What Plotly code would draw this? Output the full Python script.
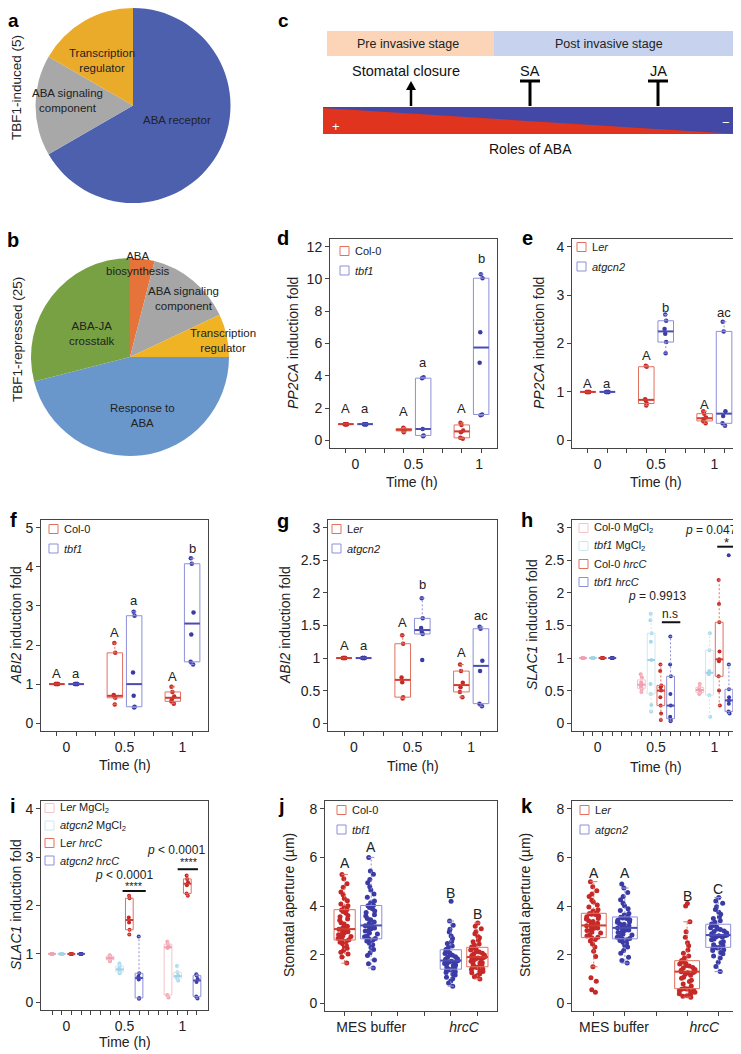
import plotly.graph_objects as go

# the page body adds an 8 px margin, so the figure covers page pixels 8..741
OFF = 8
W, H = 741 - OFF, 1054 - OFF
FONT = "Liberation Sans, Arial, sans-serif"

# ---------------- data ----------------
# a / b: gene categories (pie shares)
a_labels = ["ABA receptor", "ABA signaling component", "Transcription regulator"]
a_values = [4, 1, 1]
b_labels = ["ABA biosynthesis", "ABA signaling component", "Transcription regulator",
            "Response to ABA", "ABA-JA crosstalk"]
b_values = [4, 14, 7, 46, 29]

time_labels = ["0", "0.5", "1"]

# d: PP2CA, Col-0 / tbf1 (values per time point)
d_col0 = [[1, 1, 1, 1, 1, 1], [0.5, 0.58, 0.62, 0.68, 0.72, 0.78], [0.1, 0.15, 0.5, 0.6, 0.95, 1.08]]
d_tbf1 = [[1, 1, 1, 1, 1, 1], [0.25, 0.3, 0.7, 3.85, 3.9], [1.55, 1.6, 4.8, 6.7, 10.05, 10.3]]
# e: PP2CA, Ler / atgcn2
e_ler = [[1, 1, 1, 1, 1, 1], [0.72, 0.76, 0.82, 0.85, 1.52, 1.54], [0.35, 0.4, 0.44, 0.47, 0.55, 0.6]]
e_gcn2 = [[1, 1, 1, 1, 1, 1], [1.8, 2.03, 2.2, 2.3, 2.47, 2.6], [0.3, 0.35, 0.5, 0.6, 2.25, 2.45]]
# f: ABI2, Col-0 / tbf1
f_col0 = [[1, 1, 1, 1, 1, 1], [0.48, 0.65, 0.68, 0.72, 1.8, 2.05], [0.5, 0.56, 0.62, 0.68, 0.8, 0.93]]
f_tbf1 = [[1, 1, 1, 1, 1, 1], [0.4, 0.42, 0.7, 1.3, 2.75, 2.85], [1.5, 1.57, 2.27, 2.83, 4.08, 4.22]]
# g: ABI2, Ler / atgcn2
g_ler = [[1, 1, 1, 1, 1, 1], [0.38, 0.4, 0.63, 0.7, 1.22, 1.35], [0.4, 0.48, 0.55, 0.62, 0.8, 0.9]]
g_gcn2 = [[1, 1, 1, 1, 1, 1], [0.97, 1.37, 1.4, 1.46, 1.61, 1.92], [0.26, 0.3, 0.8, 0.96, 1.45, 1.48]]
# h: SLAC1, Col-0 / tbf1, MgCl2 / hrcC
h_col0_mg = [[1, 1, 1, 1, 1, 1], [0.48, 0.52, 0.55, 0.58, 0.6, 0.63, 0.7, 0.75], [0.45, 0.47, 0.5, 0.52, 0.55, 0.6]]
h_tbf1_mg = [[1, 1, 1, 1, 1, 1], [0.18, 0.28, 0.45, 0.6, 0.97, 1.25, 1.38, 1.58, 1.68], [0.1, 0.43, 0.75, 0.8, 1.12, 1.38]]
h_col0_hr = [[1, 1, 1, 1, 1, 1], [0.05, 0.15, 0.27, 0.4, 0.5, 0.55, 0.58, 0.8, 0.9],
             [0.27, 0.5, 0.72, 0.95, 0.98, 1.1, 1.55, 1.83, 2.2]]
h_tbf1_hr = [[1, 1, 1, 1, 1, 1], [0.03, 0.05, 0.07, 0.1, 0.27, 0.45, 0.72, 0.9, 1.33],
             [0.15, 0.17, 0.18, 0.3, 0.35, 0.4, 0.52, 0.9, 2.58]]
# i: SLAC1, Ler / atgcn2, MgCl2 / hrcC
i_ler_mg = [[1, 1, 1, 1, 1, 1], [0.85, 0.88, 0.9, 0.92, 0.95, 0.97], [0.1, 0.15, 1.12, 1.15, 1.2, 1.25]]
i_gcn2_mg = [[1, 1, 1, 1, 1, 1], [0.6, 0.63, 0.66, 0.7, 0.75, 0.8], [0.45, 0.5, 0.53, 0.55, 0.62, 0.75]]
i_ler_hr = [[1, 1, 1, 1, 1, 1], [1.4, 1.5, 1.65, 1.75, 2.15, 2.2], [2.2, 2.25, 2.42, 2.48, 2.55, 2.62]]
i_gcn2_hr = [[1, 1, 1, 1, 1, 1], [0.07, 0.09, 0.47, 0.53, 0.6, 1.36], [0.08, 0.12, 0.42, 0.48, 0.55, 0.58]]

treat_labels = ["MES buffer", "<i>hrcC</i>"]
# j: stomatal aperture (um), Col-0 / tbf1
j_col0_mes = [1.65, 1.9, 2.02, 2.1, 2.17, 2.26, 2.31, 2.38, 2.44, 2.51, 2.55, 2.59,
              2.61, 2.66, 2.69, 2.75, 2.78, 2.82, 2.88, 2.9, 2.94, 2.99, 3.01, 3.04,
              3.06, 3.11, 3.17, 3.26, 3.31, 3.41, 3.47, 3.56, 3.61, 3.71, 3.77, 3.84,
              3.86, 3.93, 4.01, 4.08, 4.22, 4.31, 4.46, 4.58, 4.77, 4.92, 5.12, 5.3]
j_tbf1_mes = [1.45, 1.62, 1.78, 1.96, 2.08, 2.21, 2.29, 2.41, 2.47, 2.56, 2.6, 2.64,
              2.66, 2.73, 2.77, 2.85, 2.89, 2.97, 3.0, 3.06, 3.09, 3.15, 3.17, 3.19,
              3.21, 3.29, 3.34, 3.43, 3.49, 3.59, 3.64, 3.73, 3.79, 3.89, 3.94, 4.01,
              4.03, 4.13, 4.21, 4.36, 4.49, 4.66, 4.79, 4.96, 5.09, 5.31, 5.44, 6.0]
j_tbf1_hrc = [0.7, 0.83, 0.91, 1.01, 1.07, 1.16, 1.19, 1.26, 1.29, 1.35, 1.37, 1.39,
              1.41, 1.46, 1.49, 1.55, 1.57, 1.63, 1.64, 1.69, 1.7, 1.73, 1.74, 1.75,
              1.76, 1.81, 1.83, 1.89, 1.91, 1.97, 1.99, 2.05, 2.07, 2.13, 2.15, 2.19,
              2.21, 2.29, 2.35, 2.46, 2.54, 2.66, 2.77, 2.93, 3.04, 3.21, 3.38, 4.2]
j_col0_hrc = [1.0, 1.09, 1.14, 1.21, 1.25, 1.31, 1.33, 1.39, 1.41, 1.45, 1.47, 1.49,
              1.51, 1.56, 1.59, 1.65, 1.67, 1.73, 1.75, 1.81, 1.82, 1.86, 1.88, 1.89,
              1.91, 1.96, 1.98, 2.04, 2.06, 2.11, 2.13, 2.19, 2.21, 2.26, 2.27, 2.29,
              2.31, 2.39, 2.44, 2.53, 2.59, 2.69, 2.75, 2.86, 2.94, 3.06, 3.17, 3.3]
# k: stomatal aperture (um), Ler / atgcn2
k_ler_mes = [0.45, 0.55, 0.9, 1.05, 1.5, 1.92, 2.14, 2.31, 2.44, 2.56, 2.62, 2.69,
             2.71, 2.77, 2.81, 2.89, 2.92, 2.99, 3.01, 3.07, 3.09, 3.15, 3.16, 3.19,
             3.21, 3.26, 3.29, 3.36, 3.39, 3.46, 3.49, 3.56, 3.59, 3.65, 3.66, 3.69,
             3.71, 3.79, 3.85, 3.96, 4.04, 4.16, 4.24, 4.39, 4.49, 4.63, 4.79, 5.0]
k_gcn2_mes = [1.65, 1.76, 1.89, 2.06, 2.17, 2.31, 2.37, 2.46, 2.51, 2.58, 2.61, 2.64,
              2.66, 2.71, 2.74, 2.81, 2.84, 2.91, 2.93, 2.99, 3.01, 3.06, 3.07, 3.09,
              3.11, 3.16, 3.19, 3.25, 3.27, 3.33, 3.35, 3.41, 3.43, 3.49, 3.51, 3.54,
              3.56, 3.63, 3.69, 3.81, 3.89, 4.01, 4.11, 4.26, 4.39, 4.56, 4.74, 4.9]
k_ler_hrc = [0.25, 0.29, 0.31, 0.37, 0.39, 0.45, 0.47, 0.52, 0.53, 0.57, 0.58, 0.59,
             0.61, 0.71, 0.79, 0.89, 0.94, 1.03, 1.07, 1.15, 1.19, 1.25, 1.26, 1.29,
             1.31, 1.36, 1.39, 1.45, 1.47, 1.53, 1.55, 1.61, 1.63, 1.69, 1.71, 1.74,
             1.76, 1.86, 1.94, 2.06, 2.19, 2.36, 2.49, 2.71, 2.94, 3.35, 4.0, 4.1]
k_gcn2_hrc = [1.3, 1.51, 1.69, 1.86, 1.94, 2.04, 2.09, 2.17, 2.2, 2.26, 2.27, 2.29,
              2.31, 2.37, 2.41, 2.49, 2.53, 2.61, 2.64, 2.71, 2.73, 2.78, 2.79, 2.8,
              2.81, 2.86, 2.89, 2.95, 2.97, 3.03, 3.05, 3.11, 3.13, 3.19, 3.21, 3.24,
              3.26, 3.33, 3.39, 3.49, 3.55, 3.66, 3.74, 3.86, 3.97, 4.11, 4.21, 4.35]

# ---------------- styles ----------------
RED = ("#e2705f", "#c62828", "#cf3b2e")     # box line, points, median
BLUE = ("#8d8fd8", "#3b3ba6", "#4a4cb4")
PINK = ("#f6c3cb", "#f1a5b3", "#ef9fae")
CYAN = ("#cde9f2", "#a9d8ea", "#9fd2e6")
AXC = "#444444"


def X(px):
    return (px - OFF) / W


def Y(py):
    return 1 - (py - OFF) / H


fig = go.Figure()
ann = []
shapes = []


def txt(px, py, s, size=11.5, color="#222", **kw):
    d = dict(x=X(px), y=Y(py), xref="paper", yref="paper", text=s, showarrow=False,
             xanchor="center", yanchor="middle",
             font=dict(family=FONT, size=size, color=color))
    d.update(kw)
    ann.append(d)


# ---------------- pies ----------------
fig.add_trace(go.Pie(labels=a_labels, values=a_values, sort=False, direction="clockwise",
                     rotation=0, textposition="none", hoverinfo="skip", showlegend=False,
                     marker=dict(colors=["#4c60ae", "#a8a8a8", "#eaab2b"], line=dict(width=0)),
                     domain=dict(x=[X(35.5), X(230.5)], y=[Y(203), Y(8)])))
fig.add_trace(go.Pie(labels=b_labels, values=b_values, sort=False, direction="clockwise",
                     rotation=0, textposition="none", hoverinfo="skip", showlegend=False,
                     marker=dict(colors=["#e5733a", "#a6a6a6", "#f0b324", "#6a97cb", "#78a143"],
                                 line=dict(width=0)),
                     domain=dict(x=[X(31), X(229)], y=[Y(456), Y(258)])))

txt(177, 120, "ABA receptor")
txt(102, 60, "Transcription<br>regulator")
txt(67, 100, "ABA signaling<br>component")
txt(138, 263, "ABA<br>biosynthesis")
txt(183, 298, "ABA signaling<br>component")
txt(223, 340, "Transcription<br>regulator")
txt(92, 333, "ABA-JA<br>crosstalk")
txt(142, 415, "Response to<br>ABA")
txt(17, 88, "TBF1-induced (5)", size=13.5, textangle=-90)
txt(17, 340, "TBF1-repressed (25)", size=13.5, textangle=-90)

# ---------------- panel c (schematic) ----------------
def rect(x0, y0, x1, y1, color):
    shapes.append(dict(type="rect", xref="paper", yref="paper", x0=X(x0), x1=X(x1),
                       y0=Y(y1), y1=Y(y0), fillcolor=color, line=dict(width=0), layer="above"))


def seg(x0, y0, x1, y1, width=3, color="#000"):
    shapes.append(dict(type="line", xref="paper", yref="paper", x0=X(x0), x1=X(x1),
                       y0=Y(y0), y1=Y(y1), line=dict(color=color, width=width), layer="above"))


rect(327, 31, 494, 56, "#fcd5b8")
rect(494, 31, 735, 56, "#c7d2ee")
txt(408, 44, "Pre invasive stage", size=12.5)
txt(609, 44, "Post invasive stage", size=12.5)
txt(406, 71, "Stomatal closure", size=14.5, color="#111")
txt(530, 71, "SA", size=14.5, color="#111")
txt(658, 71, "JA", size=14.5, color="#111")
seg(411, 106, 411, 89, width=2.5)
shapes.append(dict(type="path", xref="paper", yref="paper", layer="above",
                   path=f"M {X(406)},{Y(90)} L {X(416)},{Y(90)} L {X(411)},{Y(81)} Z",
                   fillcolor="#000", line=dict(width=0)))
for tx in (530, 658):
    seg(tx, 106, tx, 81)
    seg(tx - 10, 81, tx + 10, 81)
rect(323, 107, 735, 134, "#4347a6")
shapes.append(dict(type="path", xref="paper", yref="paper", layer="above",
                   path=f"M {X(323)},{Y(108)} L {X(735)},{Y(134)} L {X(323)},{Y(134)} Z",
                   fillcolor="#e0341f", line=dict(width=0)))
txt(336, 126, "+", size=13, color="#fff")
txt(726, 122, "\u2212", size=13, color="#fff")
txt(530, 149, "Roles of ABA", size=14, color="#111")

# ---------------- panel letters ----------------
txt(13, 8, "<b>a</b>", size=19, color="#000", yanchor="top")
txt(283, 8, "<b>c</b>", size=19, color="#000", yanchor="top")
letters = [("b", 13, 240), ("d", 283, 238), ("e", 527, 238),
           ("f", 13, 520), ("g", 283, 521), ("h", 527, 520), ("i", 13, 806), ("j", 281, 806),
           ("k", 527, 806)]
for s, px, py in letters:
    txt(px, py, f"<b>{s}</b>", size=20, color="#000")

axes = {}


def panel(n, frame, xr, yr, yticks, xt_vals, xt_text, minor_vals):
    L, T, R, B = frame
    axes[f"xaxis{n}"] = dict(domain=[X(L), X(R)], range=xr, anchor=f"y{n}", showline=True,
                             mirror=True, linecolor=AXC, linewidth=1, showgrid=False, zeroline=False,
                             tickvals=xt_vals, ticktext=xt_text, ticks="outside", ticklen=3,
                             tickcolor="rgba(0,0,0,0)", tickfont=dict(family=FONT, size=14, color="#222"),
                             minor=dict(tickvals=minor_vals, ticks="outside", ticklen=4,
                                        tickcolor=AXC, tickwidth=1, showgrid=False))
    axes[f"yaxis{n}"] = dict(domain=[Y(B), Y(T)], range=yr, anchor=f"x{n}", showline=True,
                             mirror=True, linecolor=AXC, linewidth=1, showgrid=False, zeroline=False,
                             tickvals=yticks, ticks="outside", ticklen=4, tickcolor=AXC,
                             tickfont=dict(family=FONT, size=14, color="#222"))


def tukey(vals):
    # Tukey hinges and 1.5*IQR whisker ends, as R's boxplot draws them
    v = sorted(vals)
    n = len(v)

    def med(a):
        m = len(a)
        return a[m // 2] if m % 2 else (a[m // 2 - 1] + a[m // 2]) / 2

    half = (n + 1) // 2
    q1, q3 = med(v[:half]), med(v[n - half:])
    iqr = q3 - q1
    lo = min(x for x in v if x >= q1 - 1.5 * iqr)
    hi = max(x for x in v if x <= q3 + 1.5 * iqr)
    return q1, med(v), q3, lo, hi


def boxes(n, groups, slots, style, jitter=0.2, width=0.8, size=4.5):
    lc, pc, mc = style
    xs, ys = [], []
    for vals, s in zip(groups, slots):
        xs += [s] * len(vals)
        ys += vals
    # points (jittered by plotly), box itself drawn below as lines
    fig.add_trace(go.Box(x=xs, y=ys, xaxis=f"x{n}", yaxis=f"y{n}", width=width,
                         boxpoints="all", jitter=jitter, pointpos=0,
                         line=dict(color="rgba(0,0,0,0)", width=0), fillcolor="rgba(0,0,0,0)",
                         marker=dict(color=pc, size=size), showlegend=False, hoverinfo="skip"))
    bx, by, mx, my, wx, wy = [], [], [], [], [], []
    hw, cw = width / 2, width * 0.15
    for vals, s in zip(groups, slots):
        q1, md, q3, lo, hi = tukey(vals)
        bx += [s - hw, s + hw, s + hw, s - hw, s - hw, None, s - cw, s + cw, None, s - cw, s + cw, None]
        by += [q1, q1, q3, q3, q1, None, lo, lo, None, hi, hi, None]
        mx += [s - hw, s + hw, None]
        my += [md, md, None]
        wx += [s, s, None, s, s, None]
        wy += [q1, lo, None, q3, hi, None]
    common = dict(xaxis=f"x{n}", yaxis=f"y{n}", mode="lines", showlegend=False, hoverinfo="skip")
    fig.add_trace(go.Scatter(x=wx, y=wy, line=dict(color=lc, width=1, dash="2px,2px"), **common))
    fig.add_trace(go.Scatter(x=bx, y=by, line=dict(color=lc, width=1), **common))
    fig.add_trace(go.Scatter(x=mx, y=my, line=dict(color=mc, width=2), **common))


def legend(px, py, items, dy=19.5):
    for k, (name, col) in enumerate(items):
        cy = py + k * dy
        shapes.append(dict(type="rect", xref="paper", yref="paper", x0=X(px), x1=X(px + 9),
                           y0=Y(cy + 4.5), y1=Y(cy - 4.5), line=dict(color=col, width=1),
                           fillcolor="rgba(0,0,0,0)", layer="above"))
        txt(px + 13, cy, name, size=11, xanchor="left")


def marks(n, items, size=13, **kw):
    for sx, sy, s in items:
        d = dict(x=sx, y=sy, xref=f"x{n}", yref=f"y{n}", text=s, showarrow=False,
                 xanchor="center", yanchor="middle", font=dict(family=FONT, size=size, color="#222"))
        d.update(kw)
        ann.append(d)


two = [1, 4, 7], [2, 5, 8]
four = [1, 7, 13], [2, 8, 14], [3, 9, 15], [4, 10, 16]
centers2 = [1.5, 4.5, 7.5]
centers4 = [2.5, 8.5, 14.5]

# d
panel(1, (330, 239, 497, 448), [0.18, 8.82], [-0.48, 12.48], [0, 2, 4, 6, 8, 10, 12],
      [1.5, 4.5, 7.9], time_labels, list(range(1, 9)))
boxes(1, d_col0, two[0], RED)
boxes(1, d_tbf1, two[1], BLUE)
marks(1, [(1, 1.94, "A"), (2, 1.94, "a"), (4, 1.77, "A"), (5, 4.83, "a"), (7, 1.94, "A"), (8, 11.3, "b")])
legend(340, 251, [("Col-0", RED[0]), ("<i>tbf1</i>", BLUE[0])])
txt(293, 343, "<i>PP2CA</i> induction fold", size=14, textangle=-90)
txt(412, 482, "Time (h)", size=14)

# e
panel(2, (572, 239, 740, 448), [0.18, 8.82], [-0.16, 4.16], [0, 1, 2, 3, 4],
      centers2, time_labels, list(range(1, 9)))
boxes(2, e_ler, two[0], RED)
boxes(2, e_gcn2, two[1], BLUE)
marks(2, [(1, 1.18, "A"), (2, 1.18, "a"), (4, 1.75, "A"), (5, 2.75, "b"), (7, 0.73, "A"), (8, 2.64, "ac")])
legend(577, 247, [("L<i>er</i>", RED[0]), ("<i>atgcn2</i>", BLUE[0])])
txt(539, 343, "<i>PP2CA</i> induction fold", size=14, textangle=-90)
txt(656, 482, "Time (h)", size=14)

# f
panel(3, (41, 520, 208, 731), [0.18, 8.82], [-0.2, 5.2], [0, 1, 2, 3, 4, 5],
      centers2, time_labels, list(range(1, 9)))
boxes(3, f_col0, two[0], RED)
boxes(3, f_tbf1, two[1], BLUE)
marks(3, [(1, 1.26, "A"), (2, 1.26, "a"), (4, 2.31, "A"), (5, 3.13, "a"), (7, 1.2, "A"), (8, 4.47, "b")])
legend(49, 529, [("Col-0", RED[0]), ("<i>tbf1</i>", BLUE[0])])
txt(16, 625, "<i>ABI2</i> induction fold", size=14, textangle=-90)
txt(125, 765, "Time (h)", size=14)

# g
panel(4, (328, 520, 497, 731), [0.18, 8.82], [-0.12, 3.12], [0, 0.5, 1, 1.5, 2, 2.5, 3],
      centers2, time_labels, list(range(1, 9)))
boxes(4, g_ler, two[0], RED)
boxes(4, g_gcn2, two[1], BLUE)
marks(4, [(1, 1.19, "A"), (2, 1.19, "a"), (4, 1.55, "A"), (5, 2.13, "b"), (7, 1.08, "A"), (8, 1.65, "ac")])
legend(332, 529, [("L<i>er</i>", RED[0]), ("<i>atgcn2</i>", BLUE[0])])
txt(285, 625, "<i>ABI2</i> induction fold", size=14, textangle=-90)
txt(413, 766, "Time (h)", size=14)

# h
panel(5, (572, 520, 740, 731), [-0.14, 17.14], [-0.12, 3.12], [0, 0.5, 1, 1.5, 2, 2.5, 3],
      centers4, time_labels, list(range(1, 17)))
boxes(5, h_col0_mg, four[0], PINK, size=4)
boxes(5, h_tbf1_mg, four[1], CYAN, size=4)
boxes(5, h_col0_hr, four[2], RED, size=4)
boxes(5, h_tbf1_hr, four[3], BLUE, size=4)
legend(579, 528, [("Col-0 MgCl<sub>2</sub>", PINK[0]), ("<i>tbf1</i> MgCl<sub>2</sub>", CYAN[0]),
                  ("Col-0 <i>hrcC</i>", RED[0]), ("<i>tbf1 hrcC</i>", BLUE[0])], dy=18)
marks(5, [(8.6, 1.96, "<i>p</i> = 0.9913"), (9.9, 1.67, "n.s")], size=12)
marks(5, [(17.05, 2.97, "<i>p</i> = 0.047")], size=12, xanchor="right")
marks(5, [(15.8, 2.77, "*")], size=13)
shapes.append(dict(type="line", xref="x5", yref="y5", x0=9.1, x1=11.0, y0=1.55, y1=1.55,
                   line=dict(color="#111", width=2)))
shapes.append(dict(type="line", xref="x5", yref="y5", x0=14.8, x1=16.8, y0=2.71, y1=2.71,
                   line=dict(color="#111", width=2)))
txt(532, 625, "<i>SLAC1</i> induction fold", size=14, textangle=-90)
txt(656, 767, "Time (h)", size=14)

# i
panel(6, (41, 801, 208, 1010), [-0.14, 17.14], [-0.16, 4.16], [0, 1, 2, 3, 4],
      centers4, time_labels, list(range(1, 17)))
boxes(6, i_ler_mg, four[0], PINK, size=4)
boxes(6, i_gcn2_mg, four[1], CYAN, size=4)
boxes(6, i_ler_hr, four[2], RED, size=4)
boxes(6, i_gcn2_hr, four[3], BLUE, size=4)
legend(45, 808, [("L<i>er</i> MgCl<sub>2</sub>", PINK[0]), ("<i>atgcn2</i> MgCl<sub>2</sub>", CYAN[0]),
                 ("L<i>er hrcC</i>", RED[0]), ("<i>atgcn2 hrcC</i>", BLUE[0])], dy=17.5)
marks(6, [(8.4, 2.63, "<i>p</i> &lt; 0.0001"), (13.8, 3.14, "<i>p</i> &lt; 0.0001")], size=12)
marks(6, [(9.5, 2.4, "****"), (15.2, 2.89, "****")], size=11)
shapes.append(dict(type="line", xref="x6", yref="y6", x0=8.3, x1=10.7, y0=2.3, y1=2.3,
                   line=dict(color="#111", width=2)))
shapes.append(dict(type="line", xref="x6", yref="y6", x0=14.0, x1=16.1, y0=2.75, y1=2.75,
                   line=dict(color="#111", width=2)))
txt(16, 905, "<i>SLAC1</i> induction fold", size=14, textangle=-90)
txt(125, 1042, "Time (h)", size=14)

# j
panel(7, (325, 801, 497, 1011), [0.26, 6.74], [-0.32, 8.32], [0, 2, 4, 6, 8],
      [2.0, 5.5], treat_labels, list(range(1, 7)))
boxes(7, [j_col0_mes, j_col0_hrc], [1, 6], RED, jitter=0.7, size=5)
boxes(7, [j_tbf1_mes, j_tbf1_hrc], [2, 5], BLUE, jitter=0.7, size=5)
marks(7, [(1, 5.75, "A"), (2, 6.42, "A"), (5, 4.54, "B"), (6, 3.67, "B")], size=14)
legend(337, 810, [("Col-0", RED[0]), ("<i>tbf1</i>", BLUE[0])])
txt(289, 905, "Stomatal aperture (\u00b5m)", size=14, textangle=-90)

# k
panel(8, (572, 801, 740, 1011), [0.3, 5.7], [-0.32, 8.32], [0, 2, 4, 6, 8],
      [1.65, 4.55], treat_labels, list(range(1, 6)))
boxes(8, [k_ler_mes, k_ler_hrc], [1, 4], RED, jitter=0.7, size=5)
boxes(8, [k_gcn2_mes, k_gcn2_hrc], [2, 5], BLUE, jitter=0.7, size=5)
marks(8, [(1, 5.37, "A"), (2, 5.37, "A"), (4, 4.42, "B"), (5, 4.7, "C")], size=14)
legend(580, 810, [("L<i>er</i>", RED[0]), ("<i>atgcn2</i>", BLUE[0])])
txt(525, 905, "Stomatal aperture (\u00b5m)", size=14, textangle=-90)

fig.update_layout(width=W, height=H, margin=dict(l=0, r=0, t=0, b=0),
                  paper_bgcolor="white", plot_bgcolor="rgba(0,0,0,0)",
                  showlegend=False, annotations=ann, shapes=shapes,
                  font=dict(family=FONT, color="#222"), **axes)

fig.write_html("out.html")
